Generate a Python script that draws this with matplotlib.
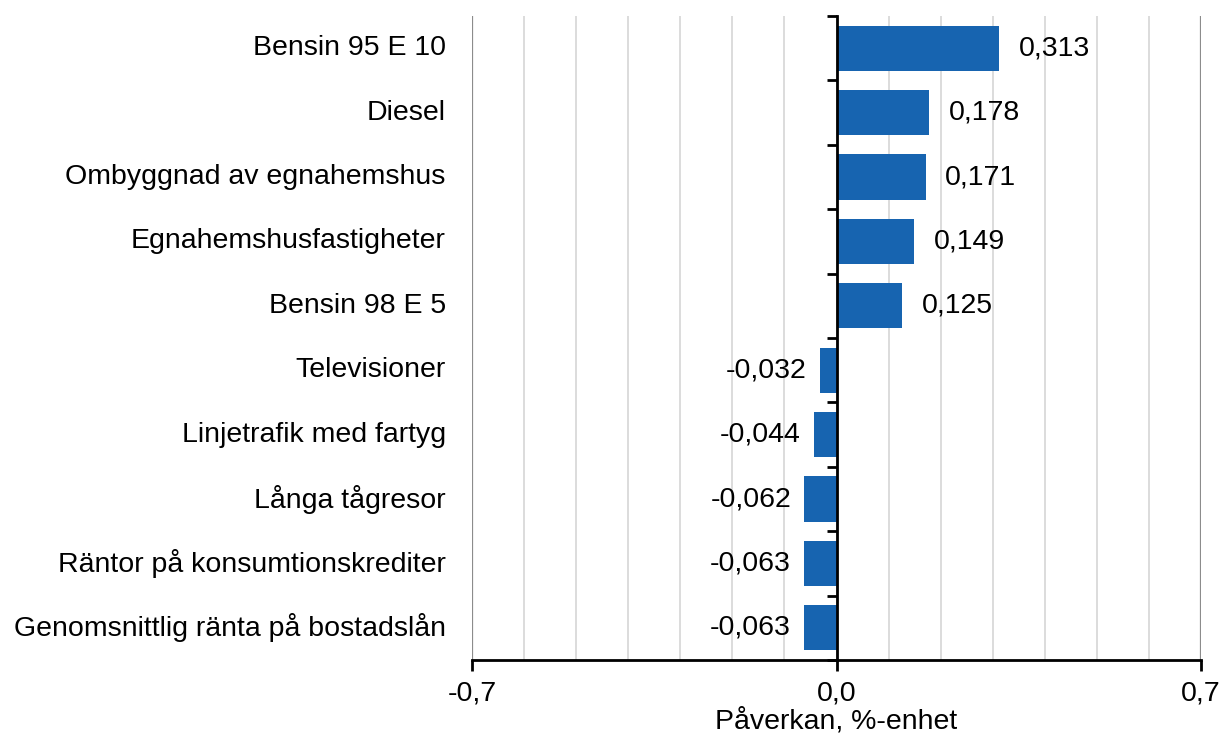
import matplotlib
matplotlib.use("Agg")
import matplotlib.pyplot as plt
import matplotlib.transforms as mtransforms
import numpy as np

plt.rcParams["font.family"] = ["Liberation Sans", "DejaVu Sans"]

categories = [
    "Bensin 95 E 10",
    "Diesel",
    "Ombyggnad av egnahemshus",
    "Egnahemshusfastigheter",
    "Bensin 98 E 5",
    "Televisioner",
    "Linjetrafik med fartyg",
    "Långa tågresor",
    "Räntor på konsumtionskrediter",
    "Genomsnittlig ränta på bostadslån",
]
values = [0.313, 0.178, 0.171, 0.149, 0.125, -0.032, -0.044, -0.062, -0.063, -0.063]
xticks = [-0.7, 0.0, 0.7]
xlabel = "Påverkan, %-enhet"

BAR_COLOR = "#1764b0"
FS = 20.5


def fmt(v, decimals):
    return f"{v:.{decimals}f}".replace(".", ",")


fig = plt.figure(figsize=(12.26, 7.36), dpi=100)
ax = fig.add_axes([472 / 1226, 1 - 660 / 736, 729 / 1226, 644 / 736])

n = len(categories)
y = np.arange(n)
ax.barh(y, values, height=0.7, color=BAR_COLOR, zorder=3)
ax.set_ylim(n - 0.5, -0.5)
ax.set_xlim(-0.7, 0.7)

# gridlines every 0.1, outer ones darker
for gx in np.arange(-6, 7) / 10:
    ax.axvline(gx, color="#d9d9d9", lw=1.3, zorder=1)
for gx in (-0.7, 0.7):
    ax.axvline(gx, color="#8c8c8c", lw=1.6, zorder=1)

for s in ("top", "right"):
    ax.spines[s].set_visible(False)
ax.spines["left"].set_position(("data", 0))
ax.spines["left"].set_linewidth(2)
ax.spines["left"].set_zorder(4)
ax.spines["bottom"].set_linewidth(2)
ax.spines["bottom"].set_zorder(4)

ax.set_yticks([])
ax.set_yticks(np.arange(n + 1) - 0.5, minor=True)
ax.tick_params(axis="y", which="minor", direction="out", length=7, width=2, labelleft=False)

ax.set_xticks(xticks)
ax.set_xticklabels([fmt(t, 1) for t in xticks], fontsize=FS)
ax.tick_params(axis="x", direction="out", length=8, width=2, pad=7)
ax.set_xlabel(xlabel, fontsize=FS, labelpad=1)

# category labels at the left of the plot area
trans = mtransforms.blended_transform_factory(ax.transAxes, ax.transData)
for yi, cat in zip(y, categories):
    ax.text(-0.036, yi, cat, transform=trans, ha="right", va="center", fontsize=FS)

# value labels
for yi, v in zip(y, values):
    if v >= 0:
        ax.text(v + 0.038, yi, fmt(v, 3), ha="left", va="center", fontsize=FS)
    else:
        ax.text(v - 0.025, yi, fmt(v, 3), ha="right", va="center", fontsize=FS)

fig.savefig("out.png", dpi=100)
